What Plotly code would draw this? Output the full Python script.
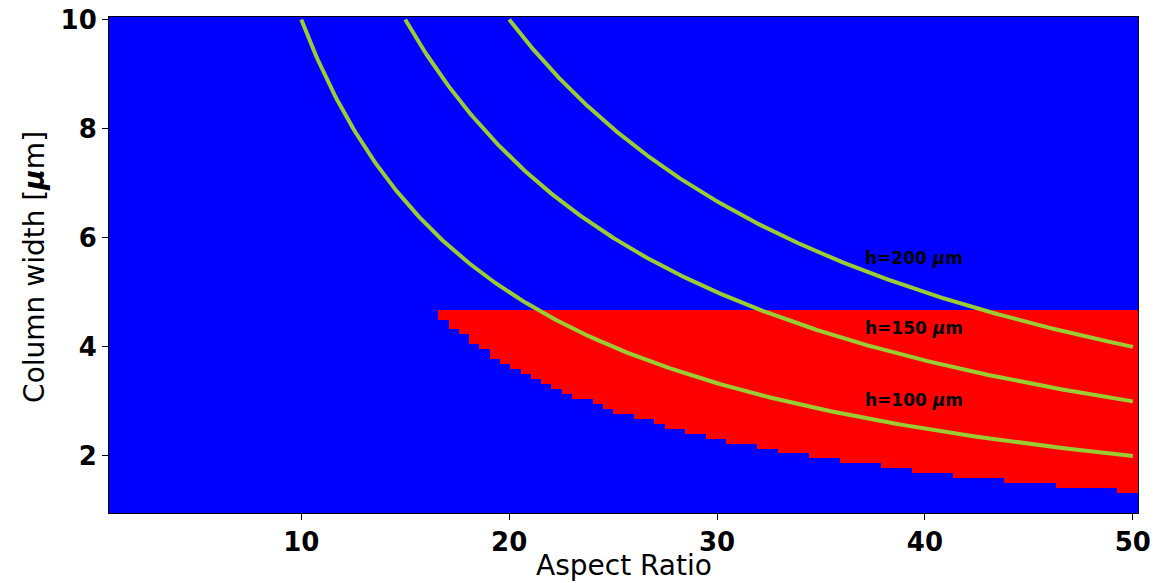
import numpy as np
import plotly.graph_objects as go

# Grid of the map (cell centres)
ar_grid = np.linspace(1, 50, 100)
width_grid = np.linspace(1, 10, 100)

# Red region: lower boundary (min column width) starting at each step's aspect ratio
step_ar = [16.84, 17.33, 17.83, 18.32, 18.82, 19.31, 19.81, 20.30, 20.80, 21.29,
           21.79, 22.28, 22.78, 23.27, 24.26, 24.76, 25.25, 26.24, 27.23, 27.73,
           28.72, 29.71, 30.70, 32.18, 33.17, 34.66, 36.14, 38.12, 39.61, 41.59,
           44.07, 46.54, 49.51]
step_w_min = [4.55, 4.36, 4.27, 4.09, 4.00, 3.82, 3.73, 3.64, 3.55, 3.45,
              3.36, 3.27, 3.18, 3.09, 3.00, 2.91, 2.82, 2.73, 2.64, 2.55,
              2.45, 2.36, 2.27, 2.18, 2.09, 2.00, 1.91, 1.82, 1.73, 1.64,
              1.55, 1.45, 1.36]
w_max = 4.64

# Iso-height curves
heights = [100, 150, 200]
label_ar = [37, 37, 37]
label_w = [3.03, 4.35, 5.63]

z = np.zeros((len(width_grid), len(ar_grid)))
for j, a in enumerate(ar_grid):
    seg = -1
    for k, s in enumerate(step_ar):
        if a >= s - 0.01:
            seg = k
    if seg < 0:
        continue
    wmin = step_w_min[seg]
    for i, w in enumerate(width_grid):
        if wmin - 0.02 <= w <= w_max + 0.02:
            z[i, j] = 1

fig = go.Figure()
fig.add_trace(go.Heatmap(
    x=ar_grid, y=width_grid, z=z,
    colorscale=[[0, "#0000ff"], [1, "#ff0000"]],
    zmin=0, zmax=1, showscale=False, zsmooth=False, hoverinfo="skip"))

for h in heights:
    a = np.linspace(h / 10, 50, 400)
    fig.add_trace(go.Scatter(x=a, y=h / a, mode="lines",
                             line=dict(color="#9acd32", width=4),
                             showlegend=False, hoverinfo="skip"))

for h, xa, ya in zip(heights, label_ar, label_w):
    fig.add_annotation(x=xa, y=ya, xref="x", yref="y",
                       text=f"<b>h={h} <i>μ</i>m</b>", showarrow=False,
                       xanchor="left", yanchor="middle",
                       font=dict(family="DejaVu Sans", size=17, color="black"))

fig.add_annotation(x=0.5, y=-0.105, xref="paper", yref="paper",
                   text="Aspect Ratio", showarrow=False,
                   xanchor="center", yanchor="middle",
                   font=dict(family="DejaVu Sans", size=28, color="black"))
fig.add_annotation(x=-0.072, y=0.496, xref="paper", yref="paper",
                   text="Column width [<b><i>μ</i></b>m]", showarrow=False,
                   textangle=-90, xanchor="center", yanchor="middle",
                   font=dict(family="DejaVu Sans", size=28, color="black"))

axis_common = dict(showgrid=False, zeroline=False, showline=True, mirror=True,
                   linecolor="black", linewidth=1, ticks="outside", ticklen=6,
                   tickwidth=1.2, tickcolor="black", automargin=False,
                   tickfont=dict(family="DejaVu Sans", size=26, color="black", weight="bold"))

fig.update_xaxes(range=[0.7525, 50.2475], tickvals=[10, 20, 30, 40, 50], **axis_common)
fig.update_yaxes(range=[0.9545, 10.0455], tickvals=[2, 4, 6, 8, 10], **axis_common)

fig.update_layout(width=1175, height=583,
                  margin=dict(l=109, r=37, t=17, b=70),
                  paper_bgcolor="white", plot_bgcolor="white",
                  showlegend=False)

fig.write_html("out.html")
